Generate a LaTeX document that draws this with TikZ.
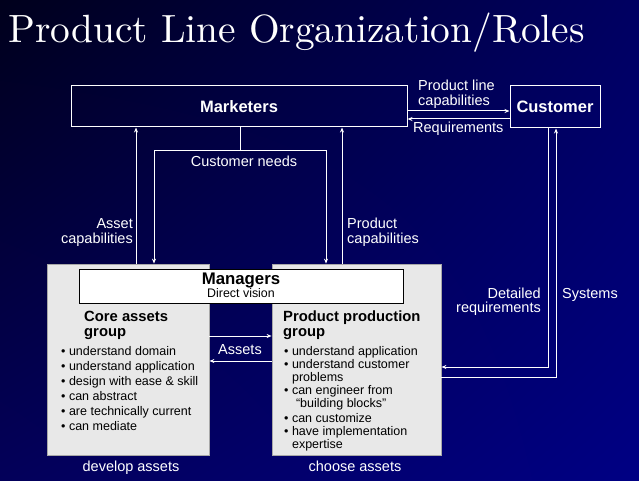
\documentclass[tikz,border=0pt]{standalone}
\usepackage{fontspec}
\setsansfont{Liberation Sans}
\newfontfamily\titlefont{lmroman10-regular.otf}
\usetikzlibrary{arrows.meta,calc,shadings}
\definecolor{bgTL}{HTML}{00001C}
\definecolor{bgTR}{HTML}{000062}
\definecolor{bgBL}{HTML}{03005A}
\definecolor{bgBR}{HTML}{000084}
\definecolor{groupfill}{HTML}{E8E8E8}
\definecolor{groupline}{HTML}{A8A8A8}
\begin{document}
\begin{tikzpicture}[x=1pt,y=-1pt,
  wire/.style={draw=white,line width=1pt},
  arr/.style={wire,-{Stealth[length=5pt,width=4pt]}},
  lbl/.style={text=white,inner sep=0pt,font=\sffamily\fontsize{14.5}{15}\selectfont},
  whitebox/.style={draw=white,line width=1pt,text=white,inner sep=0pt,
    font=\sffamily\bfseries\fontsize{16.5}{18}\selectfont},
  grp/.style={draw=groupline,fill=groupfill,line width=0.8pt,inner sep=0pt},
  mgrbox/.style={draw=black,fill=white,line width=1pt,inner sep=0pt},
  grptitle/.style={text=black,inner sep=0pt,font=\sffamily\bfseries\fontsize{14.8}{15}\selectfont},
  grplist/.style={text=black,inner sep=0pt,font=\sffamily\fontsize{12.5}{15}\selectfont},
  grplistb/.style={text=black,inner sep=0pt,font=\sffamily\fontsize{12.5}{13}\selectfont}]

% background
\shade[upper left=bgTL,upper right=bgTR,lower left=bgBL,lower right=bgBR]
  (0,0) rectangle (639,481);
\useasboundingbox (0,0) rectangle (639,481);

% title
\node[anchor=base west,inner sep=0pt,text=white,
  font=\titlefont\fontsize{39.4}{44}\selectfont] (title) at (8,43)
  {Product Line Organization/Roles};

% top row
\node[whitebox,minimum width=336pt,minimum height=41pt] (mk) at (239,106.5) {Marketers};
\node[whitebox,minimum width=90pt,minimum height=42pt] (cu) at (555,107) {Customer};

% groups
\node[grp,minimum width=162pt,minimum height=191pt] (core) at (128,359.5) {};
\node[grp,minimum width=169pt,minimum height=191pt] (prod) at (356.5,359.5) {};
\node[mgrbox,minimum width=324pt,minimum height=34pt] (mgr) at (241,286) {};
\node[anchor=base,inner sep=0pt,font=\sffamily\bfseries\fontsize{16.8}{18}\selectfont]
  (mgrT) at (241,284) {Managers};
\node[anchor=base,inner sep=0pt,font=\sffamily\fontsize{12.4}{14}\selectfont]
  (mgrS) at (241,297.5) {Direct vision};

\node[grptitle,anchor=base west] (coreT) at (84,321)
  {\begin{tabular}[t]{@{}l@{}}Core assets\\group\end{tabular}};
\node[grplist,anchor=base west] (coreL) at (61,355.5)
  {\begin{tabular}[t]{@{}l@{}}
  • understand domain\\
  • understand application\\
  • design with ease \& skill\\
  • can abstract\\
  • are technically current\\
  • can mediate
  \end{tabular}};

\node[grptitle,anchor=base west] (prodT) at (283,321)
  {\begin{tabular}[t]{@{}l@{}}Product production\\group\end{tabular}};
\node[grplistb,anchor=base west] (prodL) at (284,355.5)
  {\begin{tabular}[t]{@{}l@{}}
  • understand application\\
  • understand customer\\
  \hphantom{• }problems\\
  • can engineer from\\
  \hphantom{• }\kern4pt“building blocks”\\[2pt]
  • can customize\\
  • have implementation\\
  \hphantom{• }expertise
  \end{tabular}};

\node[lbl,anchor=base] (devA) at (131,471) {develop assets};
\node[lbl,anchor=base] (choA) at (355,471) {choose assets};

% marketers <-> customer
\coordinate (plc) at (460,111);
\coordinate (req) at (460,119);
\draw[arr] (mk.east |- plc) -- (cu.west |- plc);
\draw[arr] (cu.west |- req) -- (mk.east |- req);
\node[lbl,anchor=base west] (plcT) at (418,91)
  {\begin{tabular}[t]{@{}l@{}}Product line\\[-1pt]capabilities\end{tabular}};
\node[lbl,anchor=base west] (reqT) at (413,133) {Requirements};

% customer needs
\coordinate (cnM) at (240,151);
\coordinate (cnL) at (154,151);
\coordinate (cnR) at (326,151);
\draw[wire] (mk.south -| cnM) -- (cnM);
\draw[arr] (cnM) -- (cnL) -- (cnL |- core.north);
\draw[arr] (cnM) -- (cnR) -- (cnR |- prod.north);
\node[lbl,anchor=base] (cnT) at (244,167) {Customer needs};

% capabilities upward
\coordinate (acX) at (136,200);
\coordinate (pcX) at (342,200);
\draw[arr] (core.north -| acX) -- (mk.south -| acX);
\draw[arr] (prod.north -| pcX) -- (mk.south -| pcX);
\node[lbl,anchor=base east] (acT) at (133,228)
  {\begin{tabular}[t]{@{}r@{}}Asset\\capabilities\end{tabular}};
\node[lbl,anchor=base west] (pcT) at (347,228)
  {\begin{tabular}[t]{@{}l@{}}Product\\capabilities\end{tabular}};

% customer <-> production
\coordinate (dr) at (548,367);
\coordinate (sy) at (556,377);
\draw[arr] (cu.south -| dr) -- (dr) -- (dr -| prod.east);
\draw[arr] (sy -| prod.east) -- (sy) -- (sy |- cu.south);
\node[lbl,anchor=base east] (drT) at (541,298)
  {\begin{tabular}[t]{@{}r@{}}Detailed\\[-1pt]requirements\end{tabular}};
\node[lbl,anchor=base west] (syT) at (562,298) {Systems};

% assets exchange
\coordinate (as1) at (240,336);
\coordinate (as2) at (240,361);
\draw[arr] (core.east |- as1) -- (prod.west |- as1);
\draw[arr] (prod.west |- as2) -- (core.east |- as2);
\node[lbl,anchor=base] (asT) at (240,354) {Assets};
\end{tikzpicture}
\end{document}
